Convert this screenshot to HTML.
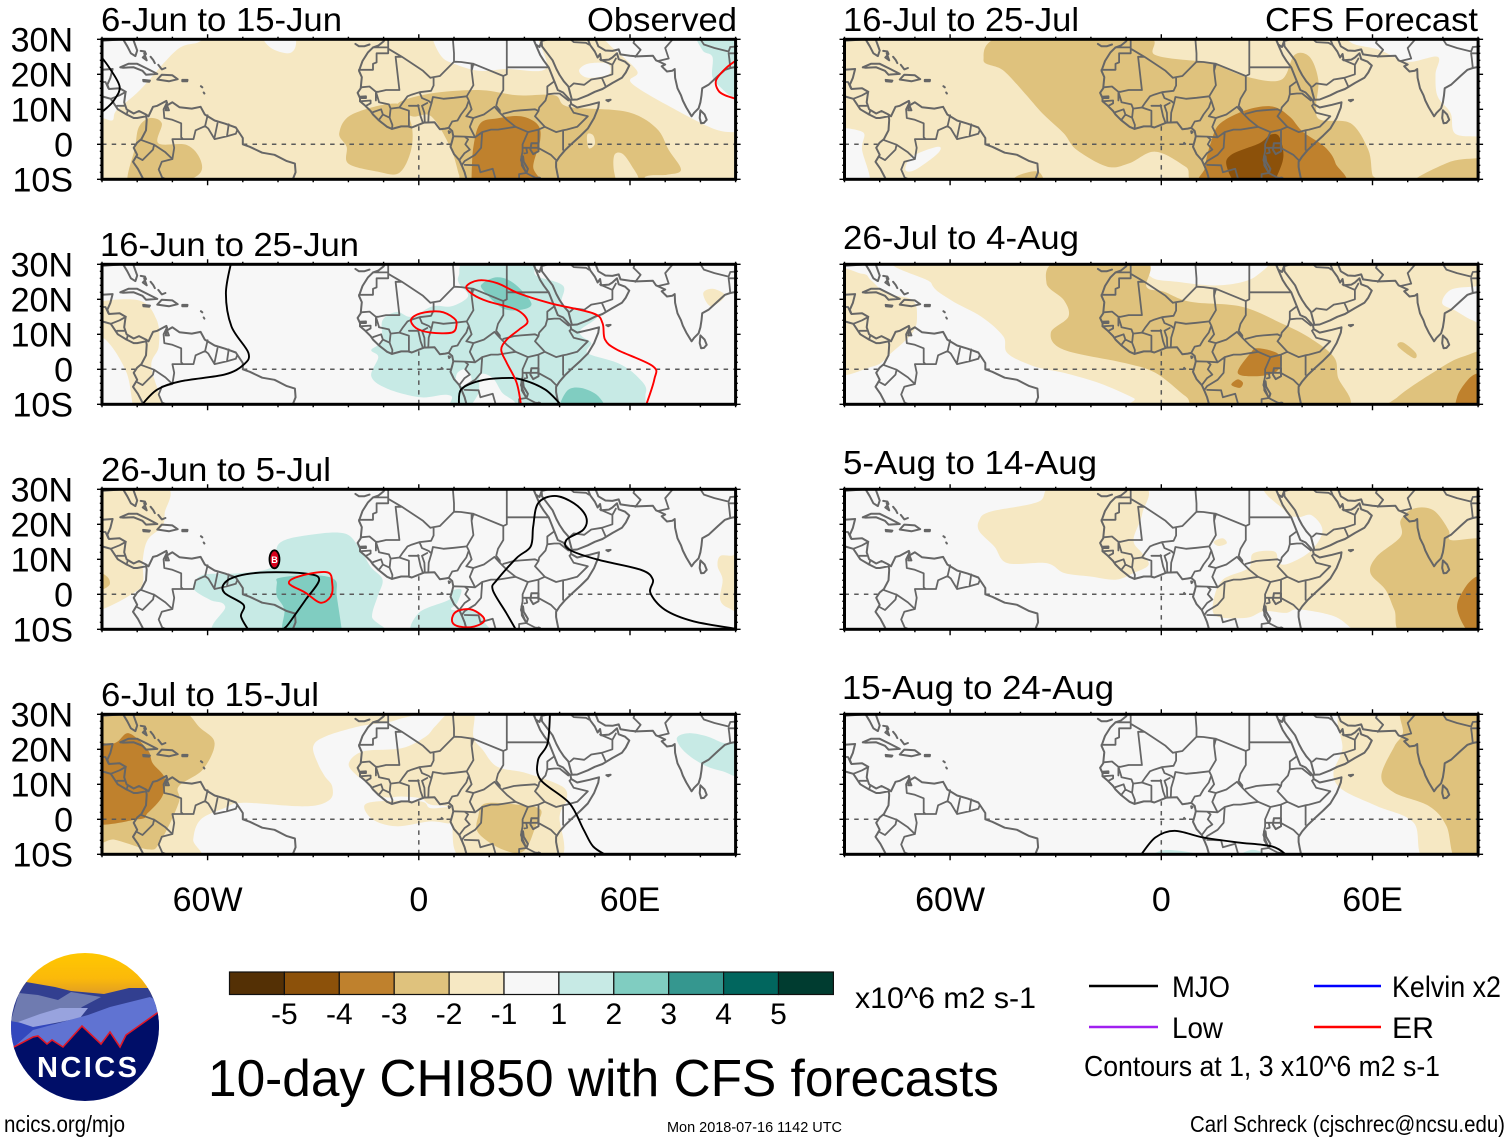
<!DOCTYPE html>
<html lang="en">
<head>
<meta charset="utf-8">
<title>10-day CHI850 with CFS forecasts</title>
<style>
html,body{margin:0;padding:0;background:#fff}
svg{display:block}
text{font-family:"Liberation Sans",Arial,sans-serif;fill:#000}
</style>
</head>
<body>
<svg id="chart" width="1510" height="1142" viewBox="0 0 1510 1142" xmlns="http://www.w3.org/2000/svg">
  <g id="maps"></g>

  <g font-size="33.5">
    <text x="101" y="31" textLength="241" lengthAdjust="spacingAndGlyphs">6-Jun to 15-Jun</text>
    <text x="587" y="31" textLength="150" lengthAdjust="spacingAndGlyphs">Observed</text>
    <text x="100" y="256" textLength="259" lengthAdjust="spacingAndGlyphs">16-Jun to 25-Jun</text>
    <text x="101" y="481" textLength="230" lengthAdjust="spacingAndGlyphs">26-Jun to 5-Jul</text>
    <text x="101" y="706" textLength="218" lengthAdjust="spacingAndGlyphs">6-Jul to 15-Jul</text>
    <text x="843" y="31" textLength="236" lengthAdjust="spacingAndGlyphs">16-Jul to 25-Jul</text>
    <text x="1265" y="31" textLength="213" lengthAdjust="spacingAndGlyphs">CFS Forecast</text>
    <text x="843" y="249" textLength="236" lengthAdjust="spacingAndGlyphs">26-Jul to 4-Aug</text>
    <text x="843" y="474" textLength="254" lengthAdjust="spacingAndGlyphs">5-Aug to 14-Aug</text>
    <text x="842" y="699" textLength="272" lengthAdjust="spacingAndGlyphs">15-Aug to 24-Aug</text>
  </g>

  <g id="colorbar"></g>
  <text x="855" y="1008" font-size="30" textLength="181" lengthAdjust="spacingAndGlyphs">x10^6 m2 s-1</text>

  <text x="208" y="1096" font-size="52" textLength="791" lengthAdjust="spacingAndGlyphs">10-day CHI850 with CFS forecasts</text>

  <g font-size="30">
    <line x1="1089" y1="986" x2="1158" y2="986" stroke="#000" stroke-width="2.4"/>
    <text x="1172" y="997" textLength="58" lengthAdjust="spacingAndGlyphs">MJO</text>
    <line x1="1089" y1="1027" x2="1158" y2="1027" stroke="#a020f0" stroke-width="2.6"/>
    <text x="1172" y="1038" textLength="51" lengthAdjust="spacingAndGlyphs">Low</text>
    <line x1="1314" y1="986" x2="1381" y2="986" stroke="#0000ff" stroke-width="2.4"/>
    <text x="1392" y="997" textLength="109" lengthAdjust="spacingAndGlyphs">Kelvin x2</text>
    <line x1="1314" y1="1027" x2="1381" y2="1027" stroke="#ff0000" stroke-width="2.4"/>
    <text x="1392" y="1038" textLength="42" lengthAdjust="spacingAndGlyphs">ER</text>
    <text x="1084" y="1076" font-size="29" textLength="356" lengthAdjust="spacingAndGlyphs">Contours at 1, 3 x10^6 m2 s-1</text>
  </g>

  <g>
    <defs>
      <clipPath id="logo-clip"><circle cx="85" cy="1027" r="74"/></clipPath>
      <linearGradient id="logo-sky" x1="0" y1="0" x2="0" y2="1">
        <stop offset="0" stop-color="#ffc800"/>
        <stop offset="0.6" stop-color="#fbb90a"/>
        <stop offset="1" stop-color="#dd9a28"/>
      </linearGradient>
    </defs>
    <g clip-path="url(#logo-clip)">
      <rect x="10" y="952" width="150" height="44" fill="url(#logo-sky)"/>
      <polygon points="5,1005 26,982 55,987 71,991 104,994 129,988 150,988 165,1030 5,1040" fill="#323f90"/>
      <polygon points="19,993 38,995 58,1000 71,992 101,997 82,1007 77,1012 33,1024 10,1024" fill="#6f7bb0"/>
      <polygon points="5,1020 33,1025 55,1024 16,1050 5,1050" fill="#3348bd"/>
      <polygon points="18,1022 40,1014 60,1008 88,1008 80,1018 55,1023 33,1027" fill="#98a3de"/>
      <polygon points="16,1045 33,1030 88,1015 110,1007 150,997 165,1005 165,1020 120,1050 16,1050" fill="#6073d2"/>
      <polygon points="5,1047 14,1047 33,1037 38,1036 47,1044 52,1040 63,1047 82,1026 101,1044 110,1032 120,1047 126,1035 160,1011 165,1011 165,1105 5,1105" fill="#000e68"/>
      <polyline points="5,1047 14,1047 33,1037 38,1036 47,1044 52,1040 63,1047 82,1026 101,1044 110,1032 120,1047 126,1035 160,1011" fill="none" stroke="#e01828" stroke-width="1.6"/>
    </g>
    <text x="37" y="1077" font-size="29" font-weight="700" textLength="100" lengthAdjust="spacing" style="fill:#fff">NCICS</text>
  </g>

  <text x="4" y="1132" font-size="23" textLength="121" lengthAdjust="spacingAndGlyphs">ncics.org/mjo</text>
  <text x="667" y="1132" font-size="15" textLength="175" lengthAdjust="spacingAndGlyphs">Mon 2018-07-16 1142 UTC</text>
  <text x="1190" y="1132" font-size="23" textLength="315" lengthAdjust="spacingAndGlyphs">Carl Schreck (cjschrec@ncsu.edu)</text>
</svg>

<script>
/* ---------- axis tick data ---------- */
const latTicks = [30, 20, 10, 0, -10];
const latLabels = ['30N', '20N', '10N', '0', '10S'];
const lonTicks = [-60, 0, 60];
const lonLabels = ['60W', '0', '60E'];

/* ---------- colour bar data ---------- */
const colorbarColors = ['#543005','#8c510a','#bf812d','#dfc27d','#f6e8c3','#f7f7f7','#c7eae5','#80cdc1','#35978f','#01665e','#003c30'];
const colorbarLabels = ['-5','-4','-3','-2','-1','1','2','3','4','5'];
const shadeLevels = [-5,-4,-3,-2,-1,0,1,2,3,4,5];

/* ---------- geography (flat lon,lat pairs) ---------- */
const coastLines = [
 [-9,31,-9.7,30,-10,29.4,-11.5,28.2,-13,27.7,-14.5,26.2,-16,23.8,-17,21,-16.2,19.2,-16.5,16,-17.4,14.7,-16.7,13.2,-16.7,12.3,-15.2,11,-13.7,9.5,-13,8.5,-11.4,6.9,-9,5,-7.6,4.4,-5,5.1,-3,5.1,-2,4.8,0,5.6,1.5,6.2,4.5,6.3,6,4.3,7.5,4.5,8.5,4.7,9.5,3.8,9.8,2.3,9.5,1,9,-0.7,10,-2.8,11.5,-4.5,12.2,-6,13,-8,13.7,-10.5],
 [39.8,-10.5,39.3,-8,39,-6.5,39,-5,40,-3.5,41.5,-1.7,43.5,0.2,46,2.5,48,4.5,49.8,7.5,51,10.5,51.2,12,48.5,11.3,45,10.5,43.3,11.5,43.1,12.5,41,14.8,39.5,15.5,38.5,18,37.3,21,36.9,22,35.5,23.9,34.5,25.5,33.5,27.8,32.6,29.9,32.5,31],
 [34.9,29.5,35,28,36.5,26,38,24,39.1,21.5,40,19.8,41.2,18,42.5,16.5,43,14.5,43.5,12.7,45,12.8,48,14,50,15,52.2,15.8,55,17.5,57.7,19,58.8,20.5,59.8,22.5,58.6,23.6,56.8,24.3,56.3,26,55,24.8,54,24.2,51.8,24,51.5,25.8,50.8,24.8,50,26.5,48.7,28.3,48,30,48,31],
 [32.6,30,33.2,28.5,34.3,27.8,34.9,29.5],
 [48.5,31,50.2,30,51,28,53,26.8,55,26.7,56.8,27.1,57.3,25.7,60,25.3,62,25.1,66.5,25.3,67.4,24,68.5,23.5,70,22.8,69,22.3,70.5,20.8,72,21,72.7,21.5,72.8,19,73.5,16,74.5,14,75,12.5,76,10.5,77.5,8,78.2,9,79.5,10.3,80,12,80.3,14,80.5,16,82.3,17,85,19.5,87,21.3,88.5,21.8,91,22.3],
 [80,9.7,81.2,8.5,81.8,7,81,6.1,80.2,6,79.8,7.5,80,9.7],
 [-77.5,8.5,-76.8,8,-75.5,10.7,-74.3,11,-71.7,12.4,-71.5,11,-71,9.7,-71.9,9.7,-71.7,11,-70,12,-68,10.6,-64.5,10.2,-62,10.7,-60.8,8.5,-58,6.8,-55,5.9,-52,4.8,-50,1.8,-50,0,-48,-0.7,-44.5,-2.4,-41,-3,-37.5,-4.8,-35.2,-5.5,-35,-8,-36,-10.5],
 [-77.5,8.5,-77.3,7,-77.5,4,-78.8,1.5,-80,0.5,-81,-1,-80,-3,-81.2,-5,-79.8,-7,-78.5,-9.5,-78,-10.5],
 [-77.5,8.5,-79.5,9.5,-81,8.8,-83,10,-83.7,12,-83.3,15,-85,16,-88,15.8,-88.5,17,-87.6,19,-87,21.5,-90,21.3,-91,18.7],
 [-77.5,8,-80,7.5,-81,7.5,-83,8.5,-85.5,10,-87.5,13,-91,14],
 [-81.5,31,-80,26.8,-80.5,25.2,-81.8,26,-82.8,28,-84,30,-91,29.5],
 [-84.8,22,-82.5,23,-80,23,-77,21.5,-74.3,20.1,-77.5,19.9,-78.5,21,-81,22,-84,21.9,-84.8,22],
 [-74.3,18.5,-73,19.9,-70,19.7,-68.5,18.6,-71,18,-74.3,18.5],
 [-78.3,18.4,-76.4,18.2,-76.6,17.9,-78.2,18,-78.3,18.4],
 [-67.2,18.4,-65.7,18.4,-65.8,18,-67.2,18,-67.2,18.4],
 [-79,26.7,-77.8,26.5,-77.5,25.8,-78.4,24.8,-77.3,24,-78,26],
 [-76.2,25,-75.4,24,-75,23.2],
 [-74,22.7,-73,21.4,-72,21.8],
 [-61.9,16.6,-61.5,16.3],
 [-61.1,14.8,-60.9,14.5],
 [-18,28.7,-17,28,-15.5,28,-14,28.5],
 [53.3,12.6,54.5,12.7,53.8,12.3,53.3,12.6],
 [32,0.3,34,0.3,34,-2,32.5,-2.8,31.7,-1.5,32,0.3],
 [29.2,-3.4,29.3,-6,30.6,-8.2,31,-7,29.8,-5,29.6,-3.4,29.2,-3.4],
 [34,-9.5,34.3,-11.5,35,-11,34.4,-9.6,34,-9.5],
 [6.5,0.4,6.8,0.1,6.4,0.1,6.5,0.4],
 [8.5,3.7,8.9,3.5,8.6,3.2,8.5,3.7]
];
const borderLines = [
 [-13,27.7,-8.7,27.7,-8.7,26,-12,26,-12,23.4,-13,23,-13,21.3,-17,21.3],
 [-8.7,27.3,-4.8,25,-6.6,25,-5.5,15.5,-9.3,15.5,-11.5,15,-12.2,15,-14,16.5,-16.4,16.3],
 [-8.7,31,-8.7,27.7],
 [-4.8,25,1.2,21,3.3,19,4.2,19.2,6,19.5,10,23.6,12,23.5,15.5,23],
 [10,31,9.7,30,10,26,10,23.6],
 [15.5,23,15,21,15.5,16.9,13.6,13.7],
 [3.6,11.7,4,13.5,7,13,10,13.3,13.6,13.7],
 [4.2,19.2,4.2,16.8,3.5,15.3,0.2,14.9,-2,14.2,-3.2,13.7,-4.5,12,-5.5,10.5,-8,10.2,-8.5,11.4,-11.3,12,-11.4,12.4,-12.2,15],
 [-16.7,12.3,-13.7,12.5,-13.7,11.7,-15,11],
 [-16.7,13.6,-15,13.7,-15,13.2,-16.7,13.2],
 [-12.2,14.8,-12.2,12.5],
 [-13,9.2,-10.7,10,-10.2,8.5,-11.4,6.9],
 [-8,10.2,-8.3,7.6,-7.5,5.5,-7.6,4.4],
 [-10.2,8.5,-8.3,7.6],
 [-5.5,10.5,-2.8,9.6,-2.8,5.1],
 [-2.8,11,0,11,-0.2,11.2,0.5,8,1.2,6.1],
 [0.9,11,1.6,9,1.7,6.2],
 [3.6,11.7,2.8,9,2.7,6.4],
 [0.2,14.9,0.9,13.2,2.8,12.4,3.6,11.7],
 [0.9,11,2.4,11.8],
 [8.5,4.7,9.5,6.5,11,6.8,12,8.5,13.5,10.5,14.2,12.5,13.6,13.7],
 [14.2,12.5,15,10,13.5,8],
 [13.5,8,15.5,7.5,14.5,5,16,2],
 [15.5,7.5,18.5,8.5,21.5,10.7,23,9],
 [15,21,15,23],
 [15.5,23,24,19.5,25,20,25,22],
 [25,31,25,22,36.9,22],
 [24,19.5,24,15.5,22.5,13,22,11,23,9.7,23,9],
 [24,8.7,27,9.5,29,9.7,33,10,34,9.5],
 [23,9,25,7,27.5,5,31,3.5,34,4.2,35.8,5,33,8,34,9.5],
 [16,2,18,3.5,20.5,4.2,22.5,4.2,27.5,5],
 [18,3.5,17.7,-1,16,-3,13,-4.8,12.2,-6],
 [9.8,2.3,13,2.2,14,1.4,13.2,0,14.5,-1.5,13,-2.5,11.5,-4.5],
 [13,2.2,16,2],
 [31,3.5,29.5,0,29.5,-2,29,-4.5,30.5,-8.2],
 [34,4.2,34,1,33.9,-1,37.5,-3,39.2,-4.7],
 [29.5,-1,30.5,-1,30.8,-2.4,30,-2.6],
 [30.5,-1,33.9,-1],
 [13,-5.9,17,-6,17.5,-8,21,-7,22,-10.5],
 [30.5,-8.2,28.5,-8.5,28.5,-10.5],
 [30.5,-8.2,33,-9.5,34.5,-9.7,35,-10.5],
 [38.5,18,36.5,16.5,36.5,14.3,38.5,14.5,40,14.5,42.5,12.5],
 [36.5,14.3,36,12.5,34.2,10.5,34,9.5],
 [35.8,5,39,3.5,41,4,42,4.2,45,5,48,8,44,9,42.8,11,43.3,11.5],
 [41,3.9,41,-1.6],
 [47.5,29,44,29.2,42,31],
 [34.9,29.5,37,30,37,31],
 [43,16.5,44,17.4,47,17,49,18.5,52,19,55,20,55,22.7,51.5,24.2],
 [52,19,53,16.7],
 [55,22.7,56,24.5],
 [47.5,29,48.3,28.5],
 [61.7,31,61,29,63,27,61.5,25],
 [68,23.8,71,24.5,70,27.5,73,31],
 [88.5,21.8,88.2,24.5,88,26,90,26,92,25],
 [80,30,81,28.5,84,27.5,88,26.5,88.5,27.8,91,28],
 [-91,17.8,-89,17.8,-88.2,16],
 [-87.5,13,-85,14,-83.2,15],
 [-85.7,11,-83.7,11],
 [-83,8.5,-82.7,9.6],
 [-71.5,12,-72.5,10,-72.3,7.5,-70,7,-67.5,6,-67.5,2,-67,1.5],
 [-67,1.5,-70,1.5,-69.5,-1,-70,-4.2],
 [-79,1.3,-75.5,0,-75.2,-0.1],
 [-80.3,-3.5,-78.5,-4.5,-75.5,-1.5,-75.2,-0.1,-72,-2.3,-70,-4.2],
 [-70,-4.2,-73,-5,-73.9,-7.2,-72.9,-9.5,-70.6,-10.5],
 [-67,1.5,-64,1.5,-63.4,4,-60.7,5.2,-60,8.3],
 [-60.7,5.2,-59.8,4.5,-58,1.5],
 [-57.2,6,-58,2],
 [-54,5.7,-54.5,2.3],
 [-58,1.5,-54.5,2.3,-52,3,-51.6,4],
 [-70,-11,-65.4,-10]
];

/* ---------- Panel 0: 6-Jun to 15-Jun ---------- */
const jun06Levels = [-1,0,0,0,0,0,1,-2,-2,-1,-1,-1,-2,-3];
const jun06Shapes = [
 [-95,35,95,35,95,-15,-95,-15],
 [-95,35,-58,35,-62,29.5,-68.7,27,-79.2,15.5,-85.8,9.8,-87,6.9,-90,7.5,-95,8],
 [4,34,4,30,6.5,25,10,23,17,21,25,21.5,36,21.5,34,30,34,34],
 [-44,31,-42,27.5,-37,26,-35,28,-36,31],
 [52,33,53.6,29,62,21,60.5,17.4,74,9.3,85,4,92,3.6,95,3.6,95,35],
 [45.5,21,48,23,53.6,23,54,20,48,19],
 [79.4,33,80.5,27,83.4,25,83.4,19.3,86,16,90,13,95,13,95,33],
 [-22.6,3.1,-19,8.5,-6,11.6,-2.2,6,-2.2,-1.6,-5.6,-8.2,-11.7,-7.8,-20,-5.5,-20.5,-0.7],
 [-6,11.6,3.3,14.5,17,15.5,28,14,38.5,14,42.5,10.7,59,9.3,67.5,4.6,71,-1.6,74.5,-7.3,70.5,-8.7,64.5,-9.2,60,-13,13,-13,11.5,-9,9,-1,3.5,8,-2,8],
 [55.6,-3,58,-2.8,61,-7,62.5,-10,62,-13,57.5,-13,55.5,-8],
 [48,3,49.6,2.5,50,0,48.4,-1.2,47.8,0.8],
 [-4,31,-2,31,-2,28,-4,27],
 [-82.4,-12,-80.6,-0.8,-79.5,5,-76.4,7.5,-73,6,-74,0.3,-65.9,-0.2,-62,-4.5,-62.7,-8.8,-71.6,-12],
 [15,-9.3,15.5,-0.7,17.5,6,22.3,7.4,29,8,33.8,5.6,34.5,1.2,32.5,-6.4,34,-12,15,-12]
];
const jun06Mjo = [[-91,26,-88,22,-85,16.5,-86.5,12.7,-88.5,10.5,-91,8.5]];
const jun06Er = [[91,24.5,87.5,22,84.5,18.4,85,15.5,87,14,91,12.7]];
const jun06ErClosed = [];

/* ---------- Panel 1: 16-Jun to 25-Jun ---------- */
const jun16Levels = [-1,-1,1,0,0,2,2];
const jun16Shapes = [
 [-95,18,-80,19.8,-74.5,14.2,-73.9,6.5,-76,0.9,-73,-10,-75,-13,-80.4,-13,-83,-1,-89,8.5,-95,10],
 [80.8,21.7,83.5,23,87,21,83,18],
 [-10.3,14,-6.2,16.4,-2.2,15,4,18,9.3,18,14,20.9,11.4,24.6,11.4,26.9,14,31,32,31,33.2,26.9,41,23.9,41,18.2,50.5,15.4,46,11.3,46.4,9.4,49,7.5,48,4.6,56.5,1.8,62,-2,64.5,-6.7,58,-13,13,-13,9,-7.5,0.5,-8,-9,-5.5,-13.5,-2,-11.5,3.5,-13.5,5.5,-10.5,8],
 [11,-1,13.5,0,15,-3,13,-5,10.7,-3.5],
 [17,-6.7,17.5,-1.5,21,-2.5,23.7,-6.7,27,-10,15,-12],
 [18.2,22.7,18.2,24.6,22.3,26.3,27,24.6,32,18.9,29,17,23.7,17.5],
 [40.7,-12,42,-6.3,46,-5.3,51,-7.7,52.2,-12]
];
const jun16Mjo = [
 [-53.2,31,-54.8,21.7,-53.2,12.2,-48.4,4.7,-49.8,1.3,-55.2,-1.5,-67.5,-3.4,-74.3,-5.8,-79,-10.5],
 [11.4,-10.5,12,-5.8,16.9,-3.4,23.7,-2.5,29.1,-2.9,35.9,-5.8,40.7,-10.5]
];
const jun16Er = [
 [29.1,-10.5,27.8,-3.9,25,1.8,23.4,5.6,25,8.5,28.4,11.3,30.9,13.7,27.8,17,19.6,19.4,15.5,21.3,13.5,23.6,16.9,25.4,22.3,24.6,28.4,21.7,37.3,18.9,49.5,16,52.2,13.2,52.9,8.5,56.3,5.6,66.5,0.9,66.9,-2.9,64.5,-10.5]
];
const jun16ErClosed = [[-2.2,14.2,0.5,16,6,16.5,10,14.6,10.7,12.7,9.4,10.5,3.3,10.5,-0.8,11.8]];

/* ---------- Panel 2: 26-Jun to 5-Jul ---------- */
const jun26Levels = [-1,-1,-2,1,1,2];
const jun26Shapes = [
 [-95,32,-72.2,31,-72.2,23.2,-72.9,19.4,-77,15.6,-78.4,9.9,-78.4,3.2,-81,0.4,-89,-3.9,-95,-5],
 [85.6,10.9,88.8,11,92,11,92,-4,88,-3.9,85.6,-1.5,86.3,4.2,84.9,8],
 [-92,6.5,-88.5,5,-88,2.5,-92,1],
 [-64,1.7,-61.4,5.5,-51.2,6,-41.6,7.9,-39.6,14.6,-30.7,17,-21.2,17.4,-17.1,13.6,-13.7,7.9,-10.3,4.2,-11.7,-0.6,-13.3,-6.4,-11.7,-12,-56,-12,-55,-3.5,-59.3,-1.6],
 [-0.8,-12,-0.1,-5.4,8.7,-1.5,9.4,0.9,12.1,1.3,10.9,-2.5,9.4,-4.4,16.9,-4.9,18.9,-8.2,19.6,-12],
 [-40.3,3.2,-39.6,4.7,-30.7,5.5,-23.9,4.2,-23.3,-0.6,-21.9,-10,-22,-12,-37.6,-12,-38.2,-4.4,-40.3,-0.6]
];
const jun26Mjo = [
 [-48.4,-10.2,-50.5,-6.3,-49.8,-3,-55.2,0.4,-55.2,3.2,-51.2,5.3,-43,6.3,-32.1,5.9,-28.3,4.2,-32.1,-1.5,-34.8,-5.3,-37.6,-9.2,-39.6,-10.5],
 [27.8,-10.5,24.9,-5.4,21,1.3,22.3,4.2,27.8,10.4,31.8,13.7,32.5,19.4,33.9,26,38.6,28.1,44.1,26,47.5,22.2,46.8,18.5,42,15.6,42.7,12.8,50.8,9.9,63.1,7,66.5,4.2,65.8,0.4,69.9,-4.4,78,-7.7,91,-10]
];
const jun26Er = [];
const jun26ErClosed = [
 [-36.9,3.2,-33.5,5.3,-26,6.3,-24.6,3.2,-25,-0.6,-28,-2.4,-32.1,0.4],
 [9.4,-7.3,10.7,-4.9,14.8,-4.3,18.2,-6.4,18.2,-8.1,14.8,-9.4,10.7,-9]
];
const stormLon = [-41];
const stormLat = [10];
const stormLabels = ['B'];

/* ---------- Panel 3: 6-Jul to 15-Jul ---------- */
const jul06Levels = [-1,-1,-1,1,-2,-2,-3];
const jul06Shapes = [
 [-95,32,-4.9,32,-6.3,28.4,-17.1,26.5,-26.7,23.6,-30,20.8,-28.7,16,-26.7,12.3,-24.6,9.4,-25.3,5.6,-32.1,3.7,-49.8,4.7,-55.2,3.2,-62,-0.1,-64.1,-5.8,-63.4,-12,-95,-12],
 [-19.9,16,-15.8,19.4,-4.9,20.3,1.9,23.6,4.6,26.5,9.4,31,15.5,31,15.5,23.6,18.2,19.8,22.3,15,30.5,13.2,40.7,9.4,42,5.6,40,0.9,39.3,-12,13.5,-12,9.4,-2,9.4,3.2,3.3,4.2,0.5,6,-4.9,6.5,-10.3,6.5,-14.4,10.3,-17.8,12.7],
 [-15.5,3.7,-11.7,5.1,0.5,5.1,3.3,3.2,9.4,3.2,9.4,-1,3.3,-0.6,-6.3,-2,-13,-0.1],
 [73.3,23.2,76.7,24.6,82.2,23.6,86.9,21.7,92,21.3,92,12.4,86.3,13.7,80.8,15.6,75.4,19.4],
 [16.9,0.9,18.9,4.5,27.8,4.2,34.6,2.8,33.2,-2,29.8,-9.1,23.7,-8.6,16.9,-3.9],
 [-95,32,-70,32,-62,26,-58,21.7,-61.4,14.2,-68.2,9.4,-68.2,4.7,-73.6,-6.7,-77,-8.6,-86.5,-5.8,-95,-5],
 [-95,20,-86.5,21.7,-82.4,24.6,-77,19.8,-75.6,16,-72.2,11.8,-72.9,6.5,-77,1.8,-79.7,0,-95,0]
];
const jul06Mjo = [[37.3,31,36.6,21.7,33.9,17,34.6,11.3,42.7,4.7,46.8,-2.9,49.5,-7.7,53.6,-10.5]];
const jul06Er = [];
const jul06ErClosed = [];

/* ---------- Panel 4: 16-Jul to 25-Jul ---------- */
const jul16Levels = [-1,0,0,0,-2,-2,-2,-3,-4];
const jul16Shapes = [
 [-95,35,95,35,95,-15,-95,-15],
 [54,33,54,29,61.8,27,69.9,23.6,78.5,25,77.9,20,78.5,13.7,82.2,8.9,83.4,3.1,90,2.2,95,2.2,95,33],
 [-95,3.1,-85,3.6,-85,-1.6,-83.2,-12,-95,-12],
 [-72.7,-7.3,-70.8,-3.5,-63.5,-0.7,-63.5,-2.6,-69.9,-7.3],
 [-50.5,24.1,-44,31,-5.4,31,-1.7,25.5,11.9,23.6,15.6,22.7,24.2,19.3,34,18.4,37.8,25.5,42.1,25,44.6,18.4,44,10.8,45.2,7,53.8,6,58.8,-1.6,60,-8.8,61.9,-12,13.7,-12,6.9,-6.4,-1.7,-2.1,-9.1,-5.4,-15.3,-6.4,-24,-1.6,-27.7,3.1,-33.8,8.9,-38.8,14.6,-45,21.2],
 [71,-12,81,-5.4,89.6,-4,95,-4,95,-12],
 [-41.2,-9.2,-35,-7.8,-33.8,-12,-42,-12],
 [12.5,-6.4,14.3,1.2,16.8,6,24.2,9.8,31.6,10.8,36.5,7.9,40.2,3.6,46.4,-0.7,49.5,-5.4,50.1,-12,13.5,-12],
 [18.6,-6.4,19.9,-3,27.9,0.3,31,2.7,33.5,2.2,34.7,-3.5,32.8,-9.2,31,-12,22.3,-12]
];
const jul16Mjo = [];
const jul16Er = [];
const jul16ErClosed = [];

/* ---------- Panel 5: 26-Jul to 4-Aug ---------- */
const jul26Levels = [-1,-1,0,0,-2,-2,-2,-3,-3,-3];
const jul26Shapes = [
 [-95,27,-85,27.3,-82.5,25.5,-78,21.7,-70.7,19.8,-69.4,15,-70.7,10.4,-76.8,4.6,-81.8,0.9,-95,0],
 [-64.7,33,-65.3,24.6,-59.8,19.8,-51.1,15,-44.9,9.4,-43.7,4.6,-36.3,0.9,-27.7,-1,-17.8,-3.9,-7.9,-8.2,-1.7,-12,95,-12,95,33],
 [-4.2,33,-3,26.5,4.4,25,16.8,24,26.7,26.5,29.1,33],
 [79.8,18.9,82.2,22.7,88.4,23.6,95,23.6,95,12,88.4,14,83.5,16.8],
 [-32.6,24.6,-29,31,-4.8,31,-4.2,23.6,0.7,22.2,8.2,19.3,22.9,17.9,34,13.2,41.5,9.4,48.9,3.7,50.1,-2,51.4,-12,13.1,-12,6.9,-7.7,-1.7,-1,-10.4,1.8,-27.7,5.6,-31.4,10.4,-26.4,15,-27.7,19.8],
 [67.4,-7.7,78.5,-0.1,85.9,3.7,95,4.7,95,-12,65,-12],
 [67.2,6.6,68.6,7.7,72.3,4.7,71.7,3.2],
 [21.7,-1,25.4,4.7,27.3,6,32.8,4.7,34,1.8,32.2,-1,26.7,-2],
 [19.9,-4.4,21.7,-2.9,23.2,-3.9,22.3,-5.3],
 [84.1,-7.7,87.2,-2.9,90.2,-1,95,0,95,-12,84.7,-12]
];
const jul26Mjo = [];
const jul26Er = [];
const jul26ErClosed = [];

/* ---------- Panel 6: 5-Aug to 14-Aug ---------- */
const aug05Levels = [-1,-1,-1,-2,-3];
const aug05Shapes = [
 [-51.7,21.2,-48.6,23.6,-35,26.4,-30,31,-5.4,31,-5.4,23.1,-7.9,15.5,-5.4,11.7,-3.6,8.4,-7.9,6.1,-12.8,4.2,-20.2,5.1,-27.6,6.1,-32.6,8.9,-43.7,8.9,-47.4,13.6,-51.7,18],
 [32.9,33,35.3,23.6,39,22.1,42.7,22.6,45.8,18.3,42.7,12.6,36.5,8.9,33.4,8.9,32.2,12.2,26.1,11.7,24.8,7.5,17.5,4.2,14.9,-1.5,15.6,-6.2,24.3,-6.7,29.2,-4.8,35.3,-5.3,39,-4.3,48.9,-6.2,53.8,-9.6,56,-12,95,-12,95,33],
 [14.9,15,17.4,16,18.6,14.6,16.2,13.8],
 [59.4,6.1,61.2,10.8,68,16.5,68,21.2,71.7,24.5,77.3,24,81.6,18.4,82.2,15.5,89.6,16,95,15.5,95,-12,69.9,-12,66.2,-4.4,63.7,1.3],
 [84.1,-4.4,85.9,1.3,89.6,5.1,95,5.6,95,-12,88.4,-12]
];
const aug05Mjo = [];
const aug05Er = [];
const aug05ErClosed = [];

/* ---------- Panel 7: 15-Aug to 24-Aug ---------- */
const aug15Levels = [-1,-2,1,1];
const aug15Shapes = [
 [53.8,33,95,33,95,-12,75.4,-12,71.7,-1,61.2,3.8,51.4,8.5,48.9,13.2,51.4,19.9],
 [69.9,33,95,33,95,-12,84.1,-12,81,-1.9,76,3.8,66.2,7.6,62.5,12.3,66.2,20.8,68.6,24.6],
 [-2.3,-10.5,1,-8.8,8,-9.4,10.6,-10.5,5,-12],
 [22.3,-10.5,26,-8.7,30.4,-10.5,26,-12]
];
const aug15Mjo = [[-6,-10.5,-1.7,-5.2,3.8,-3.3,11.9,-5.2,21.7,-6.6,31.6,-7.8,35.9,-10.5]];
const aug15Er = [];
const aug15ErClosed = [];

/* ---------- equator / meridian dashed reference lines (ocean only) ---------- */
const equatorSegments = [[-90,-80.5],[-50,9.4],[42.5,90]];
const meridianSegment = [-10,5.5];

/* ---------- panel registry ---------- */
const panelNames = ['jun-06','jun-16','jun-26','jul-06','jul-16','jul-26','aug-05','aug-15'];
const panelColumn = [0,0,0,0,1,1,1,1];
const panelRow = [0,1,2,3,0,1,2,3];
const panelLevels = [jun06Levels,jun16Levels,jun26Levels,jul06Levels,jul16Levels,jul26Levels,aug05Levels,aug15Levels];
const panelShapes = [jun06Shapes,jun16Shapes,jun26Shapes,jul06Shapes,jul16Shapes,jul26Shapes,aug05Shapes,aug15Shapes];
const panelMjo = [jun06Mjo,jun16Mjo,jun26Mjo,jul06Mjo,jul16Mjo,jul26Mjo,aug05Mjo,aug15Mjo];
const panelEr = [jun06Er,jun16Er,jun26Er,jul06Er,jul16Er,jul26Er,aug05Er,aug15Er];
const panelErClosed = [jun06ErClosed,jun16ErClosed,jun26ErClosed,jul06ErClosed,jul16ErClosed,jul26ErClosed,aug05ErClosed,aug15ErClosed];

/* ---------- layout + axis functions ---------- */
const NS = 'http://www.w3.org/2000/svg';
const COLUMN_X = [102, 844.5];
const ROW_Y = [39.3, 264.3, 489.3, 714.3];
const PX_PER_LON = 3.52;
const PX_PER_LAT = 3.5;
const LON_MIN = -90, LON_MAX = 90, LAT_MIN = -10, LAT_MAX = 30;

function xAxis(col, lon) { return COLUMN_X[col] + (lon - LON_MIN) * PX_PER_LON; }
function yAxis(row, lat) { return ROW_Y[row] + (LAT_MAX - lat) * PX_PER_LAT; }

function make(tag, attrs, parent) {
  const el = document.createElementNS(NS, tag);
  for (const k in attrs) el.setAttribute(k, attrs[k]);
  if (parent) parent.appendChild(el);
  return el;
}
function toPoints(flat, col, row) {
  const out = [];
  for (let i = 0; i + 1 < flat.length; i += 2) out.push([xAxis(col, flat[i]), yAxis(row, flat[i + 1])]);
  return out;
}
function f(n) { return n.toFixed(1); }
function smoothClosed(pts) {
  const n = pts.length;
  let d = 'M' + f(pts[0][0]) + ' ' + f(pts[0][1]);
  for (let i = 0; i < n; i++) {
    const p0 = pts[(i - 1 + n) % n], p1 = pts[i], p2 = pts[(i + 1) % n], p3 = pts[(i + 2) % n];
    d += 'C' + f(p1[0] + (p2[0] - p0[0]) / 6) + ' ' + f(p1[1] + (p2[1] - p0[1]) / 6) + ' ' +
         f(p2[0] - (p3[0] - p1[0]) / 6) + ' ' + f(p2[1] - (p3[1] - p1[1]) / 6) + ' ' + f(p2[0]) + ' ' + f(p2[1]);
  }
  return d + 'Z';
}
function smoothOpen(pts) {
  const n = pts.length;
  let d = 'M' + f(pts[0][0]) + ' ' + f(pts[0][1]);
  for (let i = 0; i < n - 1; i++) {
    const p0 = pts[Math.max(i - 1, 0)], p1 = pts[i], p2 = pts[i + 1], p3 = pts[Math.min(i + 2, n - 1)];
    d += 'C' + f(p1[0] + (p2[0] - p0[0]) / 6) + ' ' + f(p1[1] + (p2[1] - p0[1]) / 6) + ' ' +
         f(p2[0] - (p3[0] - p1[0]) / 6) + ' ' + f(p2[1] - (p3[1] - p1[1]) / 6) + ' ' + f(p2[0]) + ' ' + f(p2[1]);
  }
  return d;
}
function polyline(pts) {
  return 'M' + pts.map(function (p) { return f(p[0]) + ' ' + f(p[1]); }).join('L');
}
function levelColor(level) { return colorbarColors[shadeLevels.indexOf(level)]; }

/* ---------- draw panels ---------- */
const maps = document.getElementById('maps');

panelNames.forEach(function (name, idx) {
  const col = panelColumn[idx], row = panelRow[idx];
  const x0 = xAxis(col, LON_MIN), x1 = xAxis(col, LON_MAX);
  const y0 = yAxis(row, LAT_MAX), y1 = yAxis(row, LAT_MIN);

  const panel = make('g', {}, maps);
  
  

  const clip = make('clipPath', { id: 'clip-' + idx }, panel);
  make('rect', { x: x0, y: y0, width: x1 - x0, height: y1 - y0 }, clip);

  const body = make('g', { 'clip-path': 'url(#clip-' + idx + ')' }, panel);
  
  

  const bg = make('rect', { x: x0, y: y0, width: x1 - x0, height: y1 - y0, fill: '#f7f7f7' }, body);
  
  

  panelShapes[idx].forEach(function (shape, s) {
    const area = make('path', { d: smoothClosed(toPoints(shape, col, row)), fill: levelColor(panelLevels[idx][s]) }, body);
    
    
  });

  let dashD = '';
  equatorSegments.forEach(function (seg) {
    dashD += 'M' + f(xAxis(col, seg[0])) + ' ' + f(yAxis(row, 0)) + 'L' + f(xAxis(col, seg[1])) + ' ' + f(yAxis(row, 0));
  });
  dashD += 'M' + f(xAxis(col, 0)) + ' ' + f(yAxis(row, meridianSegment[0])) + 'L' + f(xAxis(col, 0)) + ' ' + f(yAxis(row, meridianSegment[1]));
  const dash = make('path', { d: dashD, fill: 'none', stroke: '#5a5a5a', 'stroke-width': 1.5, 'stroke-dasharray': '4.5 5.2' }, body);
  
  

  let borderD = '';
  borderLines.forEach(function (line) { borderD += polyline(toPoints(line, col, row)); });
  const borders = make('path', { d: borderD, fill: 'none', stroke: '#666', 'stroke-width': 1.8, 'stroke-linejoin': 'round', 'stroke-linecap': 'round' }, body);
  
  

  let coastD = '';
  coastLines.forEach(function (line) { coastD += polyline(toPoints(line, col, row)); });
  const coast = make('path', { d: coastD, fill: 'none', stroke: '#666', 'stroke-width': 2, 'stroke-linejoin': 'round', 'stroke-linecap': 'round' }, body);
  
  

  panelMjo[idx].forEach(function (line) {
    const c = make('path', { d: smoothOpen(toPoints(line, col, row)), fill: 'none', stroke: '#000', 'stroke-width': 1.9 }, body);
    
    
  });
  panelEr[idx].forEach(function (line) {
    const c = make('path', { d: smoothOpen(toPoints(line, col, row)), fill: 'none', stroke: '#f00', 'stroke-width': 1.9 }, body);
    
    
  });
  panelErClosed[idx].forEach(function (line) {
    const c = make('path', { d: smoothClosed(toPoints(line, col, row)), fill: 'none', stroke: '#f00', 'stroke-width': 1.9 }, body);
    
    
  });

  if (idx === 2) {
    stormLon.forEach(function (lon, s) {
      const sx = xAxis(col, lon), sy = yAxis(row, stormLat[s]);
      const outer = make('ellipse', { cx: sx, cy: sy, rx: 5, ry: 9, fill: '#d8001c', stroke: '#000', 'stroke-width': 1.8 }, panel);
      
      
      const label = make('text', { x: sx, y: sy + 3.5, 'font-size': 9, 'font-weight': 700, 'text-anchor': 'middle', style: 'fill:#fff' }, panel);
      label.textContent = stormLabels[s];
      
      
    });
  }

  /* ticks */
  let tickD = '';
  for (let lat = LAT_MIN; lat <= LAT_MAX; lat += 2) {
    const y = f(yAxis(row, lat));
    const ext = (lat % 10 === 0) ? 5 : 2.2;
    tickD += 'M' + f(x0 - ext) + ' ' + y + 'H' + f(x0) + 'M' + f(x1) + ' ' + y + 'H' + f(x1 + ext);
  }
  const latTickPath = make('path', { d: tickD, fill: 'none', stroke: '#000', 'stroke-width': 1.4 }, panel);
  
  

  let lonD = '';
  for (let lon = LON_MIN; lon <= LON_MAX; lon += 10) {
    const x = f(xAxis(col, lon));
    lonD += 'M' + x + ' ' + f(y0 - 2.5) + 'V' + f(y0) + 'M' + x + ' ' + f(y1) + 'V' + f(y1 + 3);
  }
  lonTicks.forEach(function (lon) {
    const x = f(xAxis(col, lon));
    lonD += 'M' + x + ' ' + f(y0 - 5) + 'V' + f(y0) + 'M' + x + ' ' + f(y1) + 'V' + f(y1 + 6);
  });
  const lonTickPath = make('path', { d: lonD, fill: 'none', stroke: '#000', 'stroke-width': 1.4 }, panel);
  
  

  const frame = make('rect', { x: x0, y: y0, width: x1 - x0, height: y1 - y0, fill: 'none', stroke: '#000', 'stroke-width': 3 }, panel);
  
  

  /* y axis labels, left column only */
  if (col === 0) {
    latTicks.forEach(function (lat, t) {
      const lab = make('text', { x: 73, y: f(yAxis(row, lat) + 12.2), 'font-size': 34, 'text-anchor': 'end' }, panel);
      lab.textContent = latLabels[t];
      
      
    });
  }
  /* x axis labels, bottom row only */
  if (row === 3) {
    lonTicks.forEach(function (lon, t) {
      const lab = make('text', { x: f(xAxis(col, lon)), y: 911, 'font-size': 34, 'text-anchor': 'middle' }, panel);
      lab.textContent = lonLabels[t];
      
      
    });
  }
});

/* ---------- colour bar ---------- */
const bar = document.getElementById('colorbar');
const CB_X = 229.5, CB_STEP = 54.9, CB_Y = 972, CB_H = 22.5;
function cbScale(i) { return CB_X + i * CB_STEP; }
colorbarColors.forEach(function (color, i) {
  const box = make('rect', { x: cbScale(i), y: CB_Y, width: CB_STEP, height: CB_H, fill: color, stroke: '#111', 'stroke-width': 1.2 }, bar);
  
  
});
colorbarLabels.forEach(function (label, i) {
  const t = make('text', { x: cbScale(i + 1), y: 1024, 'font-size': 30, 'text-anchor': 'middle' }, bar);
  t.textContent = label;
  
  
});
</script>
</body>
</html>
